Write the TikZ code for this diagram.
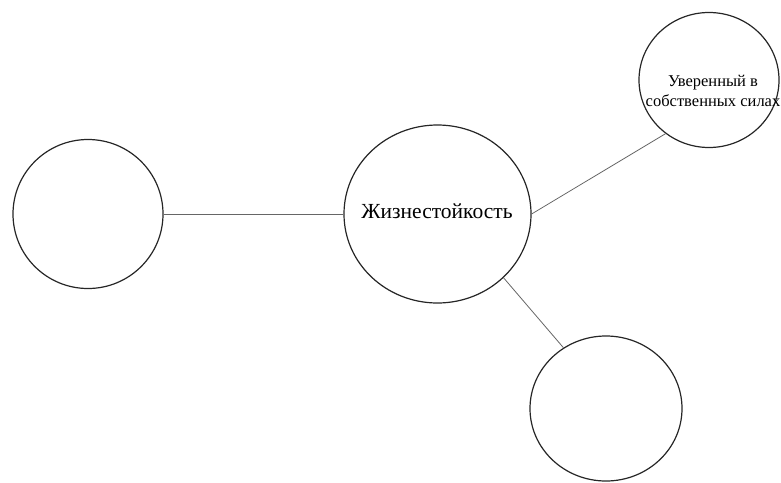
\documentclass[tikz,border=0pt]{standalone}
\usepackage{fontspec}
\setmainfont{Liberation Serif}
\usetikzlibrary{shapes.geometric}
\begin{document}
\begin{tikzpicture}[x=1pt,y=-1pt,
  circ/.style={draw=black!85, line width=1.2pt, ellipse, inner sep=0pt},
  conn/.style={draw=black!60, line width=0.8pt}]
\useasboundingbox (0,0) rectangle (781,482);
\node[circ, minimum width=150pt, minimum height=149pt] (left) at (88,214) {};
\node[circ, minimum width=187pt, minimum height=178pt] (mid) at (437.5,214) {};
\node[circ, minimum width=140pt, minimum height=135pt] (tr) at (709,80) {};
\node[circ, minimum width=152pt, minimum height=145pt] (bot) at (606,408.5) {};
\node[font=\fontsize{21.5}{26}\selectfont] (t1) at (437,211) {Жизнестойкость};
\node[font=\fontsize{16.5}{20}\selectfont, align=center, inner sep=0pt] (t2) at (713,91) {Уверенный в\\собственных силах};
\draw[conn] (left.east) -- (mid.west);
\draw[conn] (mid.east) -- (tr.231);
\draw[conn] (mid.-44) -- (bot.125);
\end{tikzpicture}
\end{document}
